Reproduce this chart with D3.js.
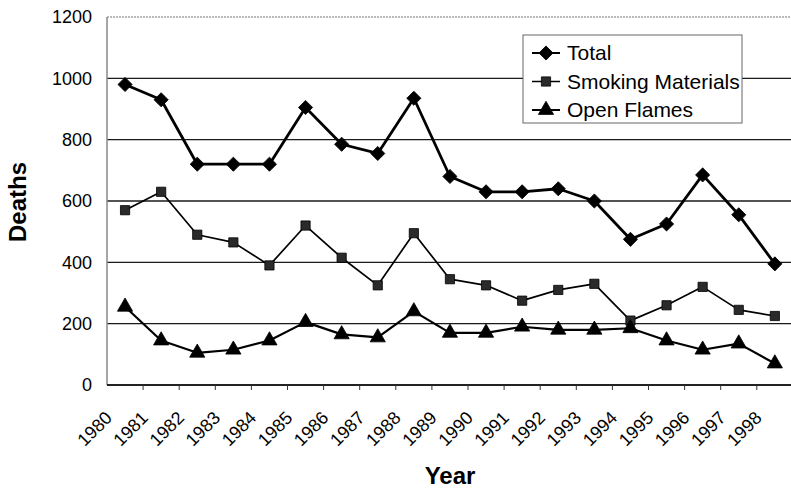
<!DOCTYPE html>
<html>
<head>
<meta charset="utf-8">
<script src="https://cdn.jsdelivr.net/npm/d3@7"></script>
<style>
body { margin: 0; background: #fff; }
svg text { font-family: "Liberation Sans", Arial, sans-serif; fill: #000; }
</style>
</head>
<body>
<div id="chart"></div>
<script>
// data
var years = ["1980","1981","1982","1983","1984","1985","1986","1987","1988","1989",
             "1990","1991","1992","1993","1994","1995","1996","1997","1998"];
var total   = [980, 930, 720, 720, 720, 905, 785, 755, 935, 680, 630, 630, 640, 600, 475, 525, 685, 555, 395];
var smoking = [570, 630, 490, 465, 390, 520, 415, 325, 495, 345, 325, 275, 310, 330, 210, 260, 320, 245, 225];
var flames  = [255, 145, 105, 115, 145, 205, 165, 155, 240, 170, 170, 190, 180, 180, 185, 145, 115, 135, 70];
var yTicks  = [0, 200, 400, 600, 800, 1000, 1200];
var seriesNames = ["Total", "Smoking Materials", "Open Flames"];

var W = 791, H = 491;
var plotLeft = 107, plotTop = 17, plotBottom = 385;
var step = 36.1;

var svg = d3.select("#chart").append("svg")
	.attr("width", W)
	.attr("height", H);

var x = d3.scaleBand().domain(years).range([plotLeft, plotLeft + step * years.length]);
var y = d3.scaleLinear().domain([0, 1200]).range([plotBottom, plotTop]);
var cx = function(d, i) { return x(years[i]) + x.bandwidth() / 2; };

// gridlines
svg.selectAll("line.grid").data(yTicks.filter(function(t){ return t > 0; }))
	.enter().append("line")
	.attr("class", "grid")
	.attr("x1", plotLeft).attr("x2", W)
	.attr("y1", function(d) { return y(d); })
	.attr("y2", function(d) { return y(d); })
	.attr("stroke", function(d) { return d == 1200 ? "#777" : "#1a1a1a"; })
	.attr("stroke-dasharray", function(d) { return d == 1200 ? "2,1" : null; })
	.attr("stroke-width", function(d) { return d == 1200 ? 1 : 1.4; });

// y axis
svg.append("line")
	.attr("x1", plotLeft).attr("x2", plotLeft)
	.attr("y1", plotTop).attr("y2", plotBottom)
	.attr("stroke", "#888").attr("stroke-width", 1.5);

var yAxis = d3.axisLeft(y).tickValues(yTicks).tickSize(0).tickPadding(15).tickFormat(d3.format("d"));
var gy = svg.append("g").attr("transform", "translate(" + plotLeft + ",0)").call(yAxis);
gy.select(".domain").remove();
gy.selectAll("text").style("font-size", "18px").attr("fill", "#000");

// x axis
svg.append("line")
	.attr("x1", plotLeft).attr("x2", W)
	.attr("y1", plotBottom).attr("y2", plotBottom)
	.attr("stroke", "#222").attr("stroke-width", 1.8);

svg.selectAll("line.xtick").data(years.slice(1))
	.enter().append("line")
	.attr("class", "xtick")
	.attr("x1", function(d) { return x(d); })
	.attr("x2", function(d) { return x(d); })
	.attr("y1", plotBottom).attr("y2", plotBottom + 5)
	.attr("stroke", "#333").attr("stroke-width", 1);

svg.selectAll("text.xlab").data(years)
	.enter().append("text")
	.attr("class", "xlab")
	.attr("text-anchor", "end")
	.style("font-size", "18px")
	.attr("transform", function(d, i) {
		return "translate(" + (cx(d, i) - 12) + "," + 419 + ") rotate(-45)";
	})
	.text(function(d) { return d; });

// axis titles
svg.append("text")
	.attr("text-anchor", "middle")
	.style("font-size", "24px").style("font-weight", "bold")
	.attr("transform", "translate(26,202) rotate(-90)")
	.text("Deaths");

svg.append("text")
	.attr("x", 450).attr("y", 484)
	.attr("text-anchor", "middle")
	.style("font-size", "24px").style("font-weight", "bold")
	.text("Year");

// series
var line = d3.line()
	.x(function(d, i) { return cx(d, i); })
	.y(function(d) { return y(d); });

var diamond = d3.symbol().type(d3.symbolSquare).size(100);
var square  = d3.symbol().type(d3.symbolSquare).size(85);
var tri     = d3.symbol().type(d3.symbolTriangle).size(100);

function drawSeries(vals, width, sym, rot, fill) {
	svg.append("path")
		.datum(vals)
		.attr("d", line)
		.attr("fill", "none")
		.attr("stroke", "#000")
		.attr("stroke-width", width)
		.attr("stroke-linejoin", "round");
	svg.selectAll(null).data(vals)
		.enter().append("path")
		.attr("d", sym)
		.attr("transform", function(d, i) {
			return "translate(" + cx(d, i) + "," + y(d) + ") rotate(" + rot + ")";
		})
		.attr("fill", fill)
		.attr("stroke", "#000")
		.attr("stroke-width", 0.8);
}

drawSeries(total, 2.8, diamond, 45, "#000");
drawSeries(smoking, 1.7, square, 0, "#2a2a2a");
drawSeries(flames, 2.2, tri, 0, "#000");

// legend
var lg = svg.append("g").attr("transform", "translate(523,35)");
lg.append("rect")
	.attr("width", 219).attr("height", 88)
	.attr("fill", "#fff")
	.attr("stroke", "#666").attr("stroke-width", 1);

var legSyms = [diamond, square, tri];
var legRot = [45, 0, 0];
var legFill = ["#000", "#2a2a2a", "#000"];
var legW = [2.0, 1.5, 2.0];
var row = lg.selectAll("g.row").data(seriesNames)
	.enter().append("g")
	.attr("class", "row")
	.attr("transform", function(d, i) { return "translate(0," + (18 + i * 28.5) + ")"; });
row.append("line")
	.attr("x1", 9).attr("x2", 37)
	.attr("stroke", "#000")
	.attr("stroke-width", function(d, i) { return legW[i]; });
row.append("path")
	.attr("d", function(d, i) { return legSyms[i](); })
	.attr("transform", function(d, i) { return "translate(23,0) rotate(" + legRot[i] + ")"; })
	.attr("fill", function(d, i) { return legFill[i]; })
	.attr("stroke", "#000").attr("stroke-width", 0.8);
row.append("text")
	.attr("x", 44).attr("dy", "0.35em")
	.style("font-size", "21px")
	.text(function(d) { return d; });
</script>
</body>
</html>
